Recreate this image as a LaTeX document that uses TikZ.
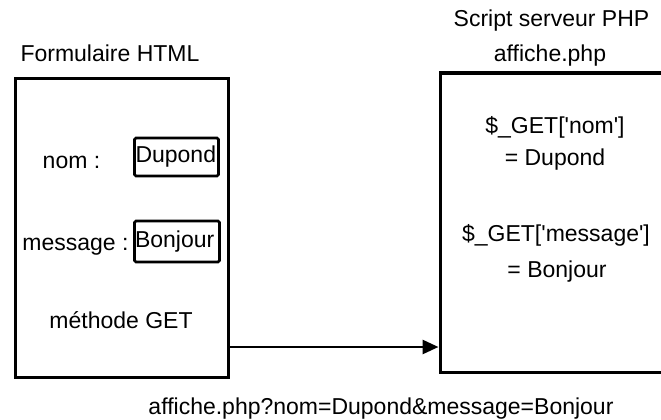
\documentclass[tikz,border=0pt]{standalone}
\usepackage{fontspec}
\setmainfont{Liberation Sans}
\usetikzlibrary{arrows.meta}
\newcommand{\sq}{\textquotesingle}
\begin{document}
\begin{tikzpicture}[x=1pt,y=-1pt,
  every node/.style={font=\fontsize{23}{27}\selectfont, inner sep=0pt},
  panel/.style={draw, line width=3pt, rectangle},
  field/.style={draw, line width=2.8pt, rounded corners=1.5pt, rectangle, text width=#1, align=left},
  label/.style={anchor=base},
  flow/.style={line width=2.8pt, -{Triangle[length=16pt,width=14pt]}}]
\useasboundingbox (0,0) rectangle (661,420);

% HTML form
\node[panel, minimum width=213pt, minimum height=299pt] (form) at (121.5,227.5) {};
\node[label] (formtitle) at (110,62) {Formulaire HTML};
\node[label] (nomlbl) at (71.5,168) {nom :};
\node[label] (msglbl) at (75.5,250) {message :};
\node[label] (methode) at (121,328) {méthode GET};
\node[field=84pt, minimum height=38pt] (nomfield) at (176.5,157) {\hspace{1pt}Dupond};
\node[field=85pt, minimum height=41pt] (msgfield) at (177,241.5) {\hspace{0.5pt}Bonjour};

% PHP script on the server
\node[panel, minimum width=232pt, minimum height=299pt] (script) at (556,222.5) {};
\node[label] (scripttitle) at (551.5,27) {Script serveur PHP};
\node[label] (scriptfile) at (550,62) {affiche.php};
\node[label] (getnom) at (555,133) {\$\_GET[\sq nom\sq]};
\node[label] (valnom) at (555,165) {= Dupond};
\node[label] (getmsg) at (556,241) {\$\_GET[\sq message\sq]};
\node[label] (valmsg) at (557,277) {= Bonjour};

% GET request
\coordinate (level) at (0,347);
\draw[flow] (form.east |- level) -- (script.west |- level);
\node[label] (url) at (381,414) {affiche.php?nom=Dupond\&message=Bonjour};
\end{tikzpicture}
\end{document}
